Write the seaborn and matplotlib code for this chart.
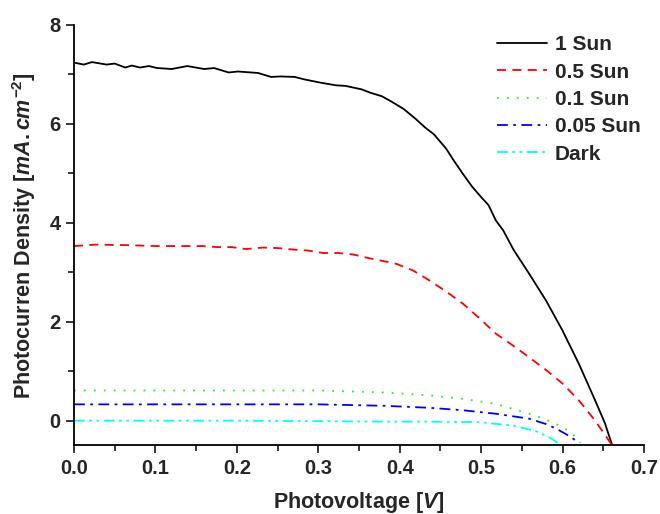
import matplotlib

matplotlib.use("Agg")
import matplotlib.pyplot as plt
import seaborn as sns
from matplotlib.ticker import MultipleLocator

# 1 Sun
v_1sun = [0.0, 0.012, 0.022, 0.04, 0.05, 0.063, 0.071, 0.081, 0.092, 0.102, 0.12, 0.139,
          0.16, 0.172, 0.19, 0.201, 0.226, 0.242, 0.254, 0.271, 0.283, 0.304, 0.322, 0.333,
          0.353, 0.364, 0.378, 0.39, 0.405, 0.419, 0.431, 0.442, 0.457, 0.466, 0.478, 0.489,
          0.5, 0.509, 0.518, 0.527, 0.54, 0.559, 0.58, 0.6, 0.62, 0.64, 0.652, 0.661]
j_1sun = [7.24, 7.2, 7.25, 7.2, 7.22, 7.14, 7.18, 7.14, 7.17, 7.13, 7.11, 7.17,
          7.11, 7.13, 7.04, 7.06, 7.03, 6.95, 6.96, 6.95, 6.9, 6.83, 6.78, 6.77,
          6.7, 6.63, 6.56, 6.45, 6.3, 6.11, 5.93, 5.79, 5.5, 5.27, 4.98, 4.73,
          4.52, 4.36, 4.05, 3.85, 3.45, 2.97, 2.42, 1.82, 1.15, 0.41, -0.05, -0.5]

# 0.5 Sun
v_05sun = [0.0, 0.026, 0.061, 0.102, 0.137, 0.158, 0.176, 0.193, 0.211, 0.232, 0.25, 0.269,
           0.287, 0.306, 0.324, 0.343, 0.361, 0.382, 0.396, 0.416, 0.437, 0.458, 0.478,
           0.498, 0.518, 0.539, 0.559, 0.58, 0.6, 0.62, 0.64, 0.661]
j_05sun = [3.53, 3.56, 3.55, 3.53, 3.53, 3.53, 3.51, 3.51, 3.47, 3.5, 3.49, 3.46,
           3.44, 3.39, 3.39, 3.36, 3.29, 3.22, 3.17, 3.04, 2.83, 2.6, 2.36,
           2.07, 1.76, 1.52, 1.28, 1.02, 0.75, 0.41, 0.0, -0.5]

# 0.1 Sun
v_01sun = [0.0, 0.1, 0.2, 0.3, 0.382, 0.437, 0.478, 0.518, 0.559, 0.58, 0.6, 0.612, 0.622]
j_01sun = [0.61, 0.61, 0.61, 0.61, 0.57, 0.51, 0.44, 0.34, 0.14, 0.02, -0.13, -0.26, -0.45]

# 0.05 Sun
v_005sun = [0.0, 0.1, 0.2, 0.3, 0.382, 0.437, 0.478, 0.518, 0.559, 0.58, 0.592, 0.605, 0.619]
j_005sun = [0.33, 0.33, 0.33, 0.33, 0.30, 0.26, 0.21, 0.14, 0.04, -0.07, -0.16, -0.28, -0.43]

# Dark
v_dark = [0.0, 0.1, 0.2, 0.3, 0.382, 0.437, 0.498, 0.539, 0.567, 0.583, 0.596]
j_dark = [0.0, 0.0, 0.0, -0.01, -0.02, -0.02, -0.03, -0.1, -0.21, -0.33, -0.47]

series = [
    ("1 Sun", v_1sun, j_1sun, "black", "-"),
    ("0.5 Sun", v_05sun, j_05sun, "red", (0, (5, 3.5))),
    ("0.1 Sun", v_01sun, j_01sun, "#22ee22", (0, (1, 4.5))),
    ("0.05 Sun", v_005sun, j_005sun, "blue", (0, (6, 3, 1.5, 3))),
    ("Dark", v_dark, j_dark, "cyan", (0, (6, 2.5, 1.5, 2.5, 1.5, 2.5))),
]

sns.set_style("ticks")
plt.rcParams["font.family"] = ["Liberation Sans", "DejaVu Sans"]
plt.rcParams["font.weight"] = "bold"
plt.rcParams["mathtext.fontset"] = "custom"
plt.rcParams["mathtext.it"] = "Liberation Sans:italic:bold"
plt.rcParams["mathtext.rm"] = "Liberation Sans:bold"

fig = plt.figure(figsize=(6.6, 5.14), dpi=100)
# axes box: x 74..644 px, y 25..445 px
ax = fig.add_axes([74 / 660, (514 - 445.4) / 514, 570 / 660, 420.4 / 514])

for name, v, j, col, ls in series:
    sns.lineplot(x=v, y=j, ax=ax, color=col, linestyle=ls, linewidth=1.3,
                 label=name, sort=False)

ax.set_xlim(0, 0.7)
ax.set_ylim(-0.5, 8)
ax.xaxis.set_major_locator(MultipleLocator(0.1))
ax.xaxis.set_minor_locator(MultipleLocator(0.05))
ax.yaxis.set_major_locator(MultipleLocator(2))
ax.yaxis.set_minor_locator(MultipleLocator(1))
ax.tick_params(which="major", direction="out", length=6, width=1.3, labelsize=14.5)
ax.tick_params(which="minor", direction="out", length=4, width=1.3)
ax.set_xticklabels([f"{t:.1f}" for t in ax.get_xticks()], fontweight="bold")
ax.set_yticklabels([f"{t:.0f}" for t in ax.get_yticks()], fontweight="bold")

for s in ["top", "right"]:
    ax.spines[s].set_visible(False)
for s in ["left", "bottom"]:
    ax.spines[s].set_linewidth(1.3)
    ax.spines[s].set_color("black")

ax.set_xlabel(r"Photovoltage $[V]$", fontsize=15.5, fontweight="bold", labelpad=9)
ax.set_ylabel(r"Photocurren Density $[mA.cm^{-2}]$", fontsize=15.5, fontweight="bold", labelpad=8)

leg = ax.legend(loc="upper right", frameon=False, fontsize=15, handlelength=2.4,
                handletextpad=0.35, borderaxespad=0.0, borderpad=0.5,
                labelspacing=0.4, bbox_to_anchor=(1.012, 1.0))
for t in leg.get_texts():
    t.set_fontweight("bold")

fig.savefig("out.png", dpi=100)
